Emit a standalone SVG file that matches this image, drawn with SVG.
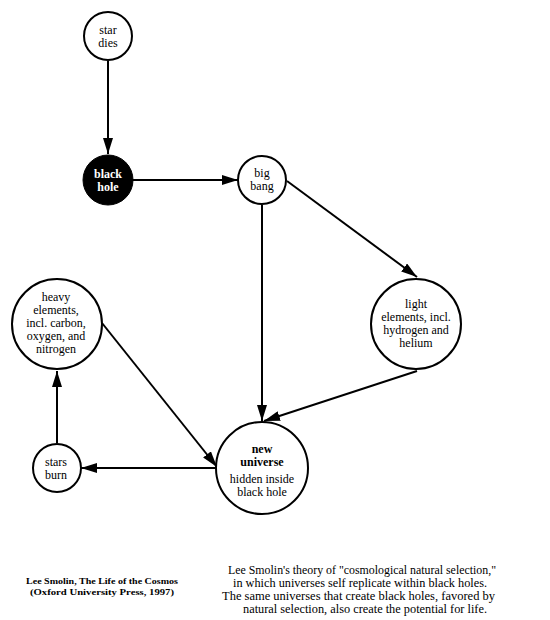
<svg xmlns="http://www.w3.org/2000/svg" width="550" height="620" viewBox="0 0 550 620">
<style>
.n{fill:#fff;stroke:#000;stroke-width:2}
.t{font-family:"Liberation Serif","Times New Roman",serif;font-size:12px;text-anchor:middle;fill:#000}
.b{font-weight:bold}
.w{fill:#fff}
.c{font-size:12px}
.s{font-size:9px}
.e{stroke:#000;stroke-width:2;fill:none}
</style>
<defs>
<marker id="a" markerUnits="userSpaceOnUse" markerWidth="16" markerHeight="10" refX="16" refY="5" orient="auto">
<path d="M0,0 L16,5 L0,10 z" fill="#000"/>
</marker>
</defs>
<rect width="550" height="620" fill="#fff"/>
<g id="connectors">
<line class="e" x1="108" y1="61" x2="108" y2="154" marker-end="url(#a)"/>
<line class="e" x1="132" y1="180" x2="238" y2="180" marker-end="url(#a)"/>
<line class="e" x1="287" y1="181" x2="417" y2="277" marker-end="url(#a)"/>
<line class="e" x1="262" y1="205" x2="262" y2="421" marker-end="url(#a)"/>
<line class="e" x1="417" y1="371" x2="264" y2="421" marker-end="url(#a)"/>
<line class="e" x1="102" y1="323" x2="217" y2="467" marker-end="url(#a)"/>
<line class="e" x1="217" y1="468" x2="81" y2="468" marker-end="url(#a)"/>
<line class="e" x1="57" y1="443" x2="57" y2="371" marker-end="url(#a)"/>
</g>
<g id="star-dies">
<circle class="n" cx="108" cy="36" r="24"/>
<text class="t" x="108" y="34">star</text>
<text class="t" x="108" y="47">dies</text>
</g>
<g id="black-hole">
<circle cx="108" cy="180" r="25" fill="#000" stroke="#000" stroke-width="1"/>
<text class="t b w" x="108" y="178">black</text>
<text class="t b w" x="108" y="191">hole</text>
</g>
<g id="big-bang">
<circle class="n" cx="262" cy="180" r="24"/>
<text class="t" x="262" y="177">big</text>
<text class="t" x="262" y="190">bang</text>
</g>
<g id="light-elements">
<circle class="n" cx="416" cy="324" r="45"/>
<text class="t" x="416" y="308">light</text>
<text class="t" x="416" y="321">elements, incl.</text>
<text class="t" x="416" y="334">hydrogen and</text>
<text class="t" x="416" y="347">helium</text>
</g>
<g id="heavy-elements">
<circle class="n" cx="57" cy="324" r="45"/>
<text class="t" x="56" y="301">heavy</text>
<text class="t" x="56" y="314">elements,</text>
<text class="t" x="56" y="327">incl. carbon,</text>
<text class="t" x="56" y="340">oxygen, and</text>
<text class="t" x="56" y="353">nitrogen</text>
</g>
<g id="new-universe">
<circle class="n" cx="262" cy="468" r="46"/>
<text class="t b" x="262" y="453">new</text>
<text class="t b" x="262" y="466">universe</text>
<text class="t" x="262" y="483">hidden inside</text>
<text class="t" x="262" y="496">black hole</text>
</g>
<g id="stars-burn">
<circle class="n" cx="57" cy="468" r="24"/>
<text class="t" x="56" y="466">stars</text>
<text class="t" x="56" y="479">burn</text>
</g>
<g id="caption">
<text class="t b s" x="102" y="584" textLength="152" lengthAdjust="spacingAndGlyphs">Lee Smolin, The Life of the Cosmos</text>
<text class="t b s" x="102" y="595" textLength="144" lengthAdjust="spacingAndGlyphs">(Oxford University Press, 1997)</text>
<text class="t c" x="362" y="574" textLength="268" lengthAdjust="spacingAndGlyphs">Lee Smolin's theory of "cosmological natural selection,"</text>
<text class="t c" x="360" y="587" textLength="254" lengthAdjust="spacingAndGlyphs">in which universes self replicate within black holes.</text>
<text class="t c" x="358.5" y="600" textLength="273" lengthAdjust="spacingAndGlyphs">The same universes that create black holes, favored by</text>
<text class="t c" x="365" y="613" textLength="244" lengthAdjust="spacingAndGlyphs">natural selection, also create the potential for life.</text>
</g>
</svg>
